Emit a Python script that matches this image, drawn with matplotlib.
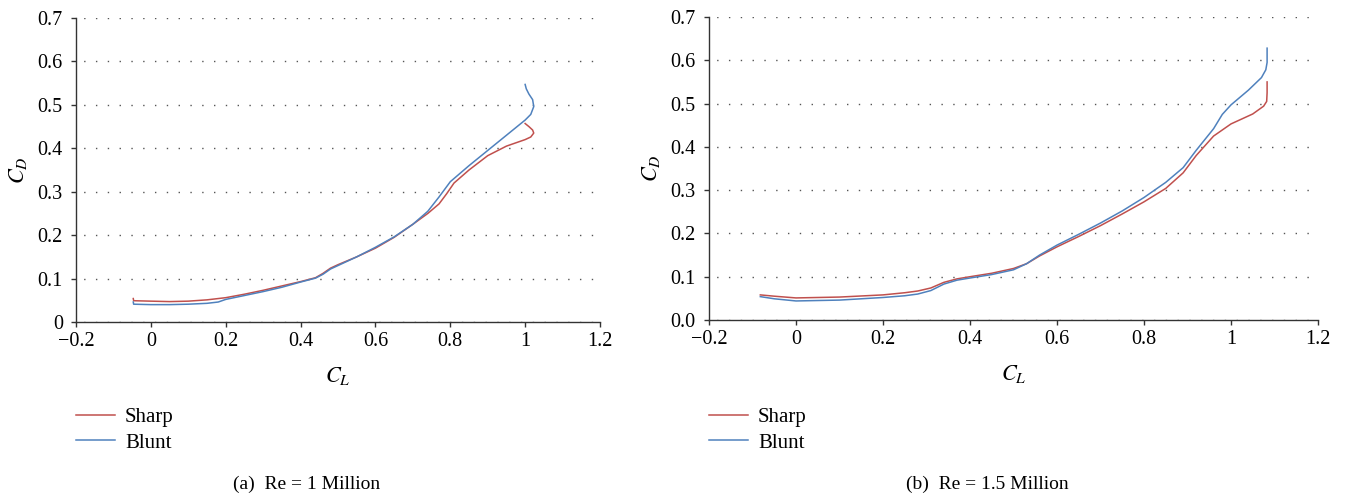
import numpy as np
import matplotlib
matplotlib.use("Agg")
import matplotlib.pyplot as plt

plt.rcParams['font.family'] = ['Liberation Serif', 'DejaVu Serif']
plt.rcParams['mathtext.fontset'] = 'stix'

# Re = 1 Million
cl_sharp_1 = [-0.047, -0.046, 0.0, 0.05, 0.1, 0.15, 0.2, 0.25, 0.3, 0.35, 0.4, 0.44, 0.46,
              0.48, 0.5, 0.55, 0.6, 0.65, 0.7, 0.74, 0.77, 0.79, 0.81, 0.85, 0.9, 0.95,
              1.0, 1.015, 1.023, 1.02, 1.01, 1.0]
cd_sharp_1 = [0.054, 0.049, 0.048, 0.047, 0.048, 0.051, 0.056, 0.064, 0.073, 0.083, 0.093,
              0.102, 0.112, 0.124, 0.132, 0.150, 0.170, 0.195, 0.225, 0.250, 0.272, 0.295,
              0.320, 0.350, 0.383, 0.405, 0.420, 0.426, 0.435, 0.442, 0.450, 0.457]
cl_blunt_1 = [-0.047, -0.046, 0.0, 0.05, 0.1, 0.15, 0.18, 0.2, 0.25, 0.3, 0.35, 0.4, 0.44,
              0.46, 0.48, 0.5, 0.55, 0.6, 0.65, 0.7, 0.74, 0.77, 0.8, 0.85, 0.9, 0.95,
              1.0, 1.015, 1.023, 1.02, 1.01, 1.003, 1.0]
cd_blunt_1 = [0.046, 0.041, 0.040, 0.040, 0.041, 0.043, 0.046, 0.052, 0.061, 0.070, 0.080,
              0.092, 0.101, 0.110, 0.122, 0.130, 0.150, 0.172, 0.196, 0.225, 0.255, 0.288,
              0.323, 0.360, 0.395, 0.430, 0.465, 0.478, 0.496, 0.512, 0.525, 0.537, 0.547]

# Re = 1.5 Million
cl_sharp_2 = [-0.082, -0.05, 0.0, 0.05, 0.1, 0.2, 0.25, 0.28, 0.31, 0.34, 0.37, 0.4, 0.45,
              0.5, 0.53, 0.56, 0.6, 0.65, 0.7, 0.75, 0.8, 0.85, 0.89, 0.92, 0.96, 1.0,
              1.05, 1.075, 1.082, 1.083, 1.083]
cd_sharp_2 = [0.058, 0.055, 0.051, 0.052, 0.053, 0.058, 0.063, 0.067, 0.074, 0.087, 0.095,
              0.100, 0.108, 0.119, 0.130, 0.148, 0.169, 0.193, 0.218, 0.245, 0.273, 0.304,
              0.340, 0.380, 0.425, 0.453, 0.476, 0.494, 0.505, 0.525, 0.550]
cl_blunt_2 = [-0.082, -0.05, 0.0, 0.05, 0.1, 0.2, 0.25, 0.28, 0.31, 0.34, 0.37, 0.4, 0.45,
              0.5, 0.53, 0.56, 0.6, 0.65, 0.7, 0.75, 0.8, 0.85, 0.89, 0.92, 0.96, 0.98,
              1.0, 1.04, 1.07, 1.08, 1.083, 1.083]
cd_blunt_2 = [0.054, 0.049, 0.044, 0.045, 0.046, 0.052, 0.056, 0.060, 0.068, 0.083, 0.092,
              0.097, 0.105, 0.116, 0.130, 0.150, 0.173, 0.198, 0.224, 0.252, 0.283, 0.318,
              0.352, 0.392, 0.442, 0.475, 0.497, 0.531, 0.560, 0.578, 0.595, 0.628]

x_ticks = [-0.2, 0, 0.2, 0.4, 0.6, 0.8, 1, 1.2]
x_labels = ['\u22120.2', '0', '0.2', '0.4', '0.6', '0.8', '1', '1.2']
y_ticks = [0, 0.1, 0.2, 0.3, 0.4, 0.5, 0.6, 0.7]
y_labels_1 = ['0', '0.1', '0.2', '0.3', '0.4', '0.5', '0.6', '0.7']
y_labels_2 = ['0.0', '0.1', '0.2', '0.3', '0.4', '0.5', '0.6', '0.7']
captions = ['(a)  Re = 1 Million', '(b)  Re = 1.5 Million']

red = '#C0504D'
blue = '#4F81BD'

fig = plt.figure(figsize=(13.46, 4.98), dpi=100)
W, H = 1346.0, 498.0

panels = [
    (76, 600, 322, 18, cl_sharp_1, cd_sharp_1, cl_blunt_1, cd_blunt_1, y_labels_1, 307),
    (709, 1318, 320, 17, cl_sharp_2, cd_sharp_2, cl_blunt_2, cd_blunt_2, y_labels_2, 987),
]

for i, (x0, x1, yb, yt, xs, ys, xb, yb_, ylab, capx) in enumerate(panels):
    ax = fig.add_axes([x0 / W, 1 - yb / H, (x1 - x0) / W, (yb - yt) / H])
    l1, = ax.plot(xs, ys, color=red, lw=1.1, label='Sharp')
    l2, = ax.plot(xb, yb_, color=blue, lw=1.1, label='Blunt')
    ax.set_xlim(-0.2, 1.2)
    ax.set_ylim(0, 0.7)
    ax.set_xticks(x_ticks)
    ax.set_xticklabels(x_labels)
    ax.set_yticks(y_ticks)
    ax.set_yticklabels(ylab)
    for s in ['top', 'right']:
        ax.spines[s].set_visible(False)
    for s in ['left', 'bottom']:
        ax.spines[s].set_color('#333333')
        ax.spines[s].set_linewidth(1.0)
    ax.tick_params(length=3.5, width=1.0, color='#333333', labelsize=14.5)
    ax.tick_params(axis='x', pad=4)
    ax.tick_params(axis='y', pad=6)
    ax.yaxis.grid(True, color='#555555', linewidth=1.0, linestyle=(3, (1, 7.5)))
    ax.set_axisbelow(True)
    ax.set_xlabel('$C_L$', fontsize=16, labelpad=10)
    ax.set_ylabel('$C_D$', fontsize=16, labelpad=6)
    ax.legend(handles=[l1, l2], loc='center left',
              bbox_to_anchor=(x0 / W, 1 - 430 / H), bbox_transform=fig.transFigure,
              frameon=False, fontsize=15, handlelength=1.85, handletextpad=0.5,
              labelspacing=0.3, borderpad=0, borderaxespad=0)
    fig.text(capx / W, 1 - 484 / H, captions[i], ha='center', va='center', fontsize=14)

fig.savefig('out.png', dpi=100)
